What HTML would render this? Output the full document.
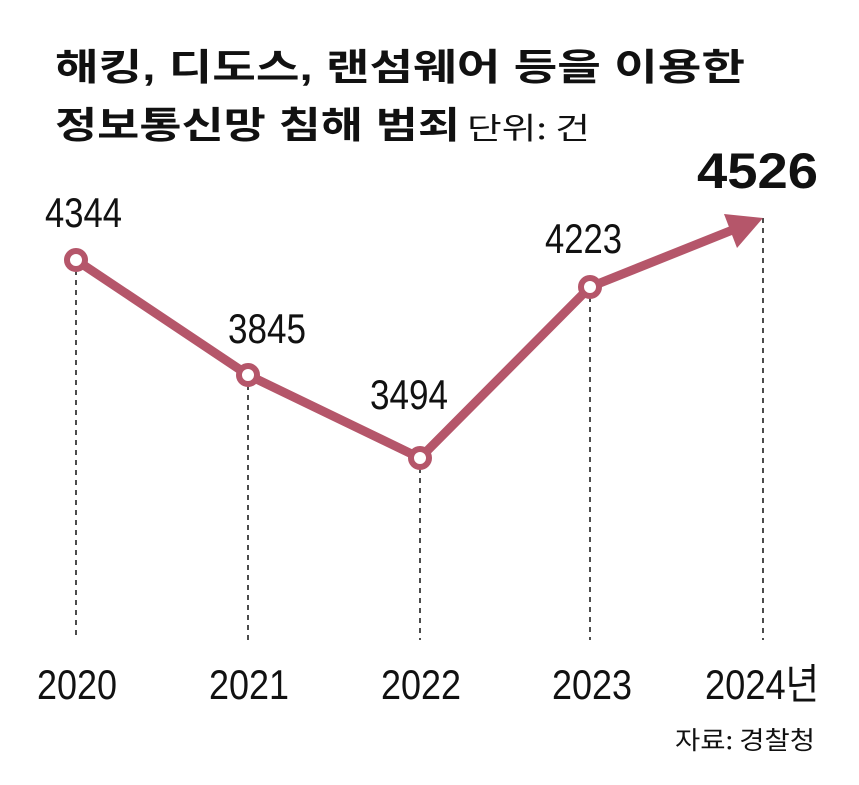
<!DOCTYPE html>
<html><head><meta charset="utf-8"><style>
body{margin:0;background:#fff;width:859px;height:785px;overflow:hidden}
svg{display:block}
.t{font-family:"Liberation Sans","Noto Sans CJK KR",sans-serif;font-weight:bold;font-size:37px;fill:#111}
.n{font-family:"Liberation Sans","Noto Sans CJK KR",sans-serif;font-size:42px;fill:#111}
.k{font-family:"Noto Sans CJK KR",sans-serif;fill:#111}
</style></head><body>
<svg width="859" height="785" viewBox="0 0 859 785">
<text class="t" x="55" y="80" textLength="690" lengthAdjust="spacingAndGlyphs">해킹, 디도스, 랜섬웨어 등을 이용한</text>
<text class="t" x="55" y="138" textLength="405" lengthAdjust="spacingAndGlyphs">정보통신망 침해 범죄</text>
<text class="k" x="467" y="139" style="font-size:30px" textLength="123" lengthAdjust="spacingAndGlyphs">단위: 건</text>
<g stroke="#111" stroke-width="1.5" stroke-dasharray="5,5">
<line x1="76" y1="270" x2="76" y2="640"/><line x1="248" y1="385" x2="248" y2="640"/>
<line x1="420" y1="468" x2="420" y2="640"/><line x1="590" y1="297" x2="590" y2="640"/>
<line x1="763" y1="218" x2="763" y2="640"/></g>
<polyline points="76,260 248,375 420,458 590,287 735,229" fill="none" stroke="#b5566a" stroke-width="9" stroke-linejoin="round"/>
<polygon points="763,218 737,248 724,214" fill="#b5566a"/>
<g fill="#fff" stroke="#b5566a" stroke-width="6">
<circle cx="76" cy="260" r="9"/><circle cx="248" cy="375" r="9"/><circle cx="420" cy="458" r="9"/><circle cx="590" cy="287" r="9"/></g>
<text class="n" x="45" y="227" textLength="77" lengthAdjust="spacingAndGlyphs">4344</text>
<text class="n" x="228" y="343" textLength="78" lengthAdjust="spacingAndGlyphs">3845</text>
<text class="n" x="370" y="409" textLength="78" lengthAdjust="spacingAndGlyphs">3494</text>
<text class="n" x="545" y="253" textLength="77" lengthAdjust="spacingAndGlyphs">4223</text>
<text class="n" x="697" y="188" style="font-size:50px;font-weight:bold" textLength="121" lengthAdjust="spacingAndGlyphs">4526</text>
<text class="n" x="37" y="699" textLength="80" lengthAdjust="spacingAndGlyphs">2020</text>
<text class="n" x="209" y="699" textLength="80" lengthAdjust="spacingAndGlyphs">2021</text>
<text class="n" x="381" y="699" textLength="80" lengthAdjust="spacingAndGlyphs">2022</text>
<text class="n" x="552" y="699" textLength="80" lengthAdjust="spacingAndGlyphs">2023</text>
<text class="n" x="705" y="699" textLength="114" lengthAdjust="spacingAndGlyphs">2024년</text>
<text class="k" x="675" y="749" style="font-size:25px" textLength="140" lengthAdjust="spacingAndGlyphs">자료: 경찰청</text>
</svg>
</body></html>
